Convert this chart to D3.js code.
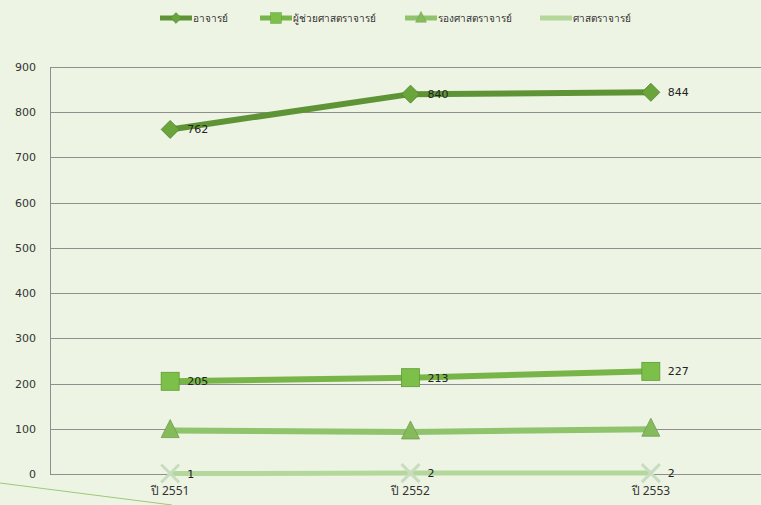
<!DOCTYPE html>
<html><head><meta charset="utf-8">
<script src="https://cdn.jsdelivr.net/npm/d3@7"></script>
<style>body{margin:0;background:#eef4e4;}svg{display:block;}</style>
</head><body>
<script>
const categories = ["ปี 2551", "ปี 2552", "ปี 2553"];
const seriesNames = ["อาจารย์", "ผู้ช่วยศาสตราจารย์", "รองศาสตราจารย์", "ศาสตราจารย์"];
const lecturer = [762, 840, 844];
const assistantProf = [205, 213, 227];
const associateProf = [96, 93, 99];
const professor = [1, 2, 2];
const yTicks = [0, 100, 200, 300, 400, 500, 600, 700, 800, 900];
const showLabels = [true, true, false, true];

const W = 761, H = 505;
const svg = d3.select("body").append("svg").attr("width", W).attr("height", H);
svg.append("rect").attr("width", W).attr("height", H).attr("fill", "#eef4e4");

const x = d3.scaleBand().domain(categories).range([50, 771]);
const y = d3.scaleLinear().domain([0, 900]).range([474, 67]);
const cx = c => x(c) + x.bandwidth() / 2;

// decorative stray line
svg.append("line").attr("x1", 0).attr("y1", 483).attr("x2", 172).attr("y2", 505)
  .attr("stroke", "#9cc878").attr("stroke-width", 1);

// gridlines
svg.append("g").selectAll("line").data(yTicks).join("line")
  .attr("x1", 50).attr("x2", W).attr("y1", d => Math.round(y(d)) + 0.5).attr("y2", d => Math.round(y(d)) + 0.5)
  .attr("stroke", "#8f8f8f").attr("stroke-width", 1);
svg.append("line").attr("x1", 50.5).attr("x2", 50.5).attr("y1", y(900)).attr("y2", y(0) + 0.5)
  .attr("stroke", "#8f8f8f");

// y axis labels
const yAxis = d3.axisLeft(y).tickValues(yTicks).tickSize(0).tickPadding(14);
const ya = svg.append("g").attr("transform", "translate(50,0)").call(yAxis);
ya.select(".domain").remove();
ya.selectAll("text").attr("font-family", "Verdana, 'DejaVu Sans', sans-serif").attr("font-size", 11).attr("fill", "#333");

// x axis labels
const xAxis = d3.axisBottom(x).tickSize(0).tickPadding(12);
const xa = svg.append("g").attr("transform", "translate(0,474)").call(xAxis);
xa.select(".domain").remove();
xa.selectAll("text").attr("font-family", "'Noto Sans', Verdana, sans-serif").attr("font-size", 12).attr("fill", "#333");

const series = [
  {name: seriesNames[0], vals: lecturer, line: "#5f9436", fill: "#6aa53c", marker: "diamond", w: 6},
  {name: seriesNames[1], vals: assistantProf, line: "#78b548", fill: "#7cc04a", marker: "square", w: 6},
  {name: seriesNames[2], vals: associateProf, line: "#8fc36c", fill: "#86bb5c", marker: "triangle", w: 6},
  {name: seriesNames[3], vals: professor, line: "#b4d89c", fill: "#c8dcc0", marker: "x", w: 5}
];

function drawMarker(g, type, px, py, s, fill) {
  if (type === "diamond") {
    g.append("path").attr("d", `M${px},${py-9}L${px+9},${py}L${px},${py+9}L${px-9},${py}Z`)
      .attr("fill", fill).attr("stroke", "#4f7f2c").attr("stroke-width", 0.8);
  } else if (type === "square") {
    g.append("rect").attr("x", px-9).attr("y", py-9).attr("width", 18).attr("height", 18)
      .attr("fill", fill).attr("stroke", "#5f9a34").attr("stroke-width", 0.8);
  } else if (type === "triangle") {
    g.append("path").attr("d", `M${px},${py-11}L${px+9},${py+7}L${px-9},${py+7}Z`)
      .attr("fill", fill).attr("stroke", "#6e9c50").attr("stroke-width", 0.8);
  } else {
    g.append("path").attr("d", `M${px-9},${py-9}L${px+9},${py+9}M${px+9},${py-9}L${px-9},${py+9}`)
      .attr("stroke", fill).attr("stroke-width", 3);
  }
}

const line = d3.line().x((d, i) => cx(categories[i])).y(d => y(d));
series.slice().reverse().forEach((s) => {
  const idx = series.indexOf(s);
  const g = svg.append("g");
  g.append("path").attr("d", line(s.vals)).attr("fill", "none").attr("stroke", s.line).attr("stroke-width", s.w);
  s.vals.forEach((v, i) => {
    const px = cx(categories[i]), py = y(v);
    drawMarker(g, s.marker, px, py, 9, s.fill);
    if (showLabels[idx]) {
      g.append("text").attr("x", px + 17).attr("y", py + 4).text(v)
        .attr("font-family", "Verdana, 'DejaVu Sans', sans-serif").attr("font-size", 11).attr("fill", "#222");
    }
  });
});

// legend
const legX = [160, 260, 405, 540];
series.forEach((s, i) => {
  const g = svg.append("g");
  const lx = legX[i], ly = 18;
  g.append("line").attr("x1", lx).attr("x2", lx + 32).attr("y1", ly).attr("y2", ly)
    .attr("stroke", s.line).attr("stroke-width", 5);
  const mg = g.append("g").attr("transform", `translate(${lx+16},${ly}) scale(0.6) translate(${-(lx+16)},${-ly})`);
  if (s.marker !== "x") drawMarker(mg, s.marker, lx + 16, ly, 9, s.fill);
  g.append("text").attr("x", lx + 33).attr("y", ly + 4).text(s.name)
    .attr("font-family", "'Noto Sans', sans-serif").attr("font-size", 10).attr("fill", "#333");
});
</script>
</body></html>
